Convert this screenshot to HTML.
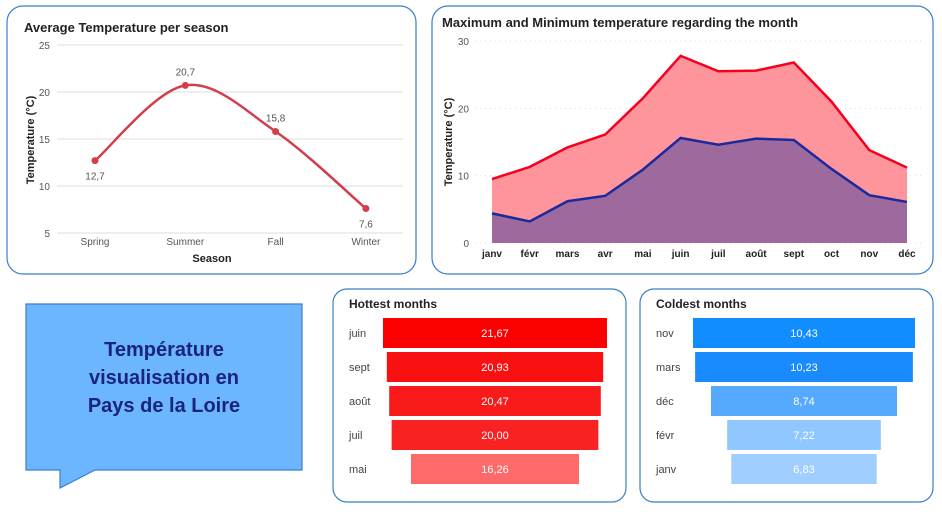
<!DOCTYPE html>
<html><head><meta charset="utf-8"><style>
body{margin:0;width:942px;height:512px;background:#fff;font-family:"Liberation Sans",sans-serif;overflow:hidden}
svg text{font-family:"Liberation Sans",sans-serif}
</style></head><body>
<svg id="s" width="942" height="512" viewBox="0 0 942 512">
<g>
<rect x="7" y="6" width="409" height="268" rx="16" fill="#fff" stroke="#3a7fc8" stroke-width="1.2"/>
<text x="24" y="32" font-size="13" font-weight="bold" fill="#222">Average Temperature per season</text>
<text x="212" y="262" font-size="11" font-weight="bold" fill="#222" text-anchor="middle">Season</text>
<text transform="translate(34,140) rotate(-90)" font-size="11" font-weight="bold" fill="#222" text-anchor="middle">Temperature (°C)</text>
<g id="g1"></g>
</g>
<g>
<rect x="432" y="6" width="501" height="268" rx="16" fill="#fff" stroke="#3a7fc8" stroke-width="1.2"/>
<text x="442" y="27" font-size="13" font-weight="bold" fill="#222">Maximum and Minimum temperature regarding the month</text>
<text transform="translate(452,142) rotate(-90)" font-size="11" font-weight="bold" fill="#222" text-anchor="middle">Temperature (°C)</text>
<g id="g2"></g>
</g>
<g>
<path d="M26,304 H302 V470 H95 L60,488 V470 H26 Z" fill="#6cb6ff" stroke="#3a7fc8" stroke-width="1.2"/>
<text x="164" y="356" font-size="20" font-weight="bold" fill="#1a237e" text-anchor="middle">Température</text>
<text x="164" y="384" font-size="20" font-weight="bold" fill="#1a237e" text-anchor="middle">visualisation en</text>
<text x="164" y="412" font-size="20" font-weight="bold" fill="#1a237e" text-anchor="middle">Pays de la Loire</text>
</g>
<g>
<rect x="333" y="289" width="293" height="213" rx="14" fill="#fff" stroke="#3a7fc8" stroke-width="1.2"/>
<text x="349" y="308" font-size="12" font-weight="bold" fill="#222">Hottest months</text>
<g id="g3"></g>
</g>
<g>
<rect x="640" y="289" width="293" height="213" rx="14" fill="#fff" stroke="#3a7fc8" stroke-width="1.2"/>
<text x="656" y="308" font-size="12" font-weight="bold" fill="#222">Coldest months</text>
<g id="g4"></g>
</g>
</svg>
<script>
const seasons=["Spring","Summer","Fall","Winter"];
const seasonVals=[12.7,20.7,15.8,7.6];
const seasonTicks=[5,10,15,20,25];
const months=["janv","févr","mars","avr","mai","juin","juil","août","sept","oct","nov","déc"];
const maxT=[9.5,11.3,14.2,16.1,21.5,27.8,25.5,25.6,26.8,21.0,13.8,11.2];
const minT=[4.4,3.2,6.2,7.0,10.9,15.6,14.6,15.5,15.3,11.0,7.1,6.1];
const monthTicks=[0,10,20,30];
const hotCats=["juin","sept","août","juil","mai"];
const hotVals=[21.67,20.93,20.47,20.00,16.26];
const coldCats=["nov","mars","déc","févr","janv"];
const coldVals=[10.43,10.23,8.74,7.22,6.83];
const NS="http://www.w3.org/2000/svg";
function mk(p,t,a,txt){const e=document.createElementNS(NS,t);for(const k in a)e.setAttribute(k,a[k]);if(txt!==undefined)e.textContent=txt;p.appendChild(e);return e;}
const fmt=(v,d)=>v.toFixed(d).replace('.',',');
// chart 1
const g1=document.getElementById('g1');
const y1=v=>233-(v-5)*(188/20), x1=i=>95+i*90.3;
seasonTicks.forEach(t=>{
 const l=mk(g1,'line',{x1:57,x2:403,y1:y1(t),y2:y1(t),stroke:'#ddd'});
 
 
 const tx=mk(g1,'text',{x:50,y:y1(t)+4,'font-size':10,fill:'#555','text-anchor':'end'},t);
 
 
});
seasons.forEach((s,i)=>{
 const tx=mk(g1,'text',{x:x1(i),y:245,'font-size':10,fill:'#555','text-anchor':'middle'},s);
 
 
});
const pts=seasonVals.map((v,i)=>[x1(i),y1(v)]);
let d='M'+pts[0];
for(let i=0;i<pts.length-1;i++){const p0=pts[Math.max(i-1,0)],p1=pts[i],p2=pts[i+1],p3=pts[Math.min(i+2,pts.length-1)];
 d+=` C${p1[0]+(p2[0]-p0[0])/6},${p1[1]+(p2[1]-p0[1])/6} ${p2[0]-(p3[0]-p1[0])/6},${p2[1]-(p3[1]-p1[1])/6} ${p2[0]},${p2[1]}`;}
const ln=mk(g1,'path',{d,fill:'none',stroke:'#d13f4b','stroke-width':2.5});


pts.forEach((p,i)=>{
 const c=mk(g1,'circle',{cx:p[0],cy:p[1],r:3.5,fill:'#d13f4b'});
 
 
 const below=(i==0||i==3);
 const t=mk(g1,'text',{x:p[0],y:below?p[1]+19:p[1]-10,'font-size':10,fill:'#555','text-anchor':'middle'},fmt(seasonVals[i],1));
 
 
});
// chart 2
const g2=document.getElementById('g2');
const y2=v=>243-v*(202/30), x2=i=>492+i*(415/11);
monthTicks.forEach(t=>{
 const l=mk(g2,'line',{x1:475,x2:922,y1:y2(t),y2:y2(t),stroke:'#ddd','stroke-dasharray':'1 4'});
 
 
 const tx=mk(g2,'text',{x:469,y:y2(t)+4,'font-size':10,fill:'#555','text-anchor':'end'},t);
 
 
});
months.forEach((m,i)=>{
 const tx=mk(g2,'text',{x:x2(i),y:257,'font-size':10,'font-weight':'bold',fill:'#222','text-anchor':'middle'},m);
 
 
});
function area(vals,fill,stroke,name){
 const l=vals.map((v,i)=>x2(i)+','+y2(v)).join(' L');
 const a=mk(g2,'path',{d:'M'+x2(0)+','+y2(0)+' L'+l+' L'+x2(vals.length-1)+','+y2(0)+'Z',fill});
 
 
 const p=mk(g2,'path',{d:'M'+l,fill:'none',stroke,'stroke-width':2.5});
 
 
}
area(maxT,'#ff959c','#f5001f','max-temp');
area(minT,'#9e6a9e','#1a2a9e','min-temp');
// funnels
function funnel(id,cats,vals,cx,maxW,colors,lx){
 const g=document.getElementById(id);const mx=Math.max(...vals);
 cats.forEach((c,i)=>{
  const w=vals[i]/mx*maxW,y=318+i*34;
  const r=mk(g,'rect',{x:cx-w/2,y,width:w,height:30,fill:colors[i]});
  
  
  const t=mk(g,'text',{x:cx,y:y+19,'font-size':11,fill:'#fff','text-anchor':'middle'},fmt(vals[i],2));
  
  
  const l=mk(g,'text',{x:lx,y:y+19,'font-size':11,fill:'#444'},c);
  
  
 });
}
funnel('g3',hotCats,hotVals,495,224,['#fa0000','#f91111','#f91a1a','#f92222','#fe6a6a'],349);
funnel('g4',coldCats,coldVals,804,222,['#118dff','#1a8bff','#55aaff','#90c7ff','#a0cfff'],656);
</script>
</body></html>
